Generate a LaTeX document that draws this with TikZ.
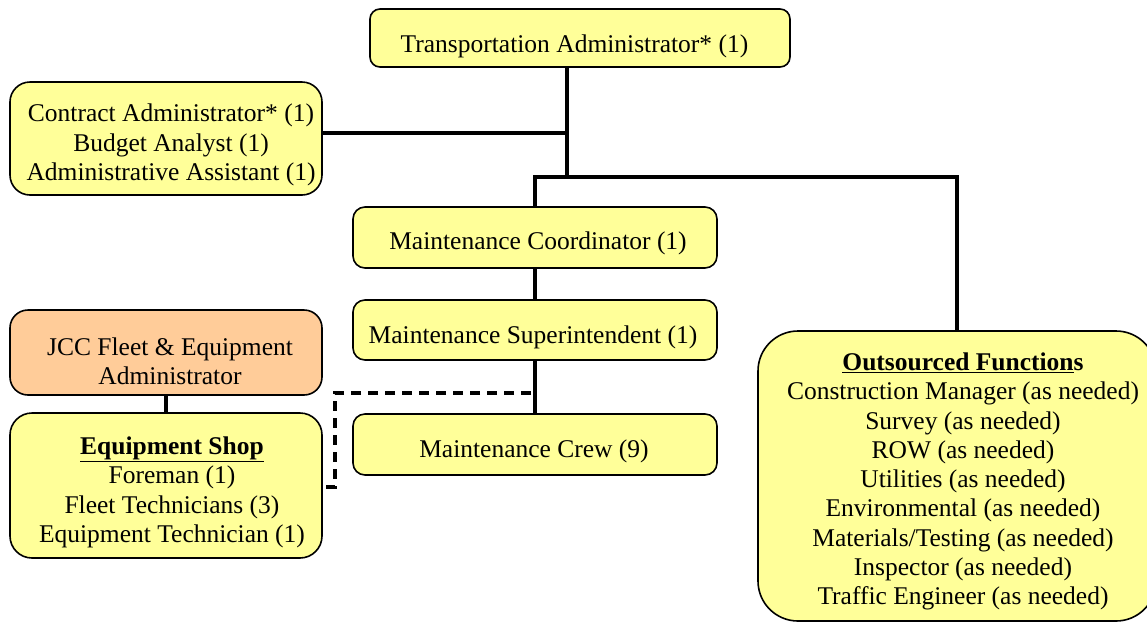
\documentclass[tikz,border=0pt]{standalone}
\usepackage{fontspec}
\setmainfont{Liberation Serif}
\definecolor{boxyellow}{HTML}{FFFF99}
\definecolor{boxorange}{HTML}{FFCC99}
\begin{document}
\begin{tikzpicture}[x=1pt,y=-1pt,
  box/.style={draw=black, line width=1.6pt, fill=boxyellow, inner sep=0pt, rectangle},
  txt/.style={font=\fontsize{25.5}{29.3}\selectfont, align=center, inner sep=0pt},
  link/.style={line width=4pt},
  dotlink/.style={line width=4pt, dash pattern=on 10pt off 7pt}]
\useasboundingbox (0,0) rectangle (1147,622);
% boxes
\node[box, rounded corners=10pt, minimum width=420pt, minimum height=58pt] (top) at (580,38) {};
\node[box, rounded corners=20pt, minimum width=312pt, minimum height=113pt] (contract) at (166,138.5) {};
\node[box, rounded corners=12pt, minimum width=364pt, minimum height=61pt] (coord) at (535,237.5) {};
\node[box, rounded corners=12pt, minimum width=364pt, minimum height=60pt] (super) at (535,330) {};
\node[box, rounded corners=12pt, minimum width=364pt, minimum height=61pt] (crew) at (535,444.5) {};
\node[box, fill=boxorange, rounded corners=18pt, minimum width=312pt, minimum height=85pt] (jcc) at (166,352.5) {};
\node[box, rounded corners=22pt, minimum width=312pt, minimum height=145pt] (shop) at (166,485.5) {};
\node[box, rounded corners=40pt, minimum width=398pt, minimum height=290pt] (out) at (957,476) {};
% texts
\node[txt, anchor=base] (ttop) at (574.5,52) {Transportation Administrator* (1)};
\node[txt] (tcontract) at (171,145) {Contract Administrator* (1)\\Budget Analyst (1)\\Administrative Assistant (1)};
\node[txt, anchor=base] (tcoord) at (538,249) {Maintenance Coordinator (1)};
\node[txt, anchor=base] (tsuper) at (533,343) {Maintenance Superintendent (1)};
\node[txt, anchor=base] (tcrew) at (534,457) {Maintenance Crew (9)};
\node[txt] (tjcc) at (170,361) {JCC Fleet \& Equipment\\Administrator};
\node[txt] (tshop) at (172,492.5) {\underline{\textbf{Equipment Shop}}\\Foreman (1)\\Fleet Technicians (3)\\Equipment Technician (1)};
\node[txt] (tout) at (963,481.5) {\underline{\textbf{Outsourced Function}}\textbf{s}\\Construction Manager (as needed)\\Survey (as needed)\\ROW (as needed)\\Utilities (as needed)\\Environmental (as needed)\\Materials/Testing (as needed)\\Inspector (as needed)\\Traffic Engineer (as needed)};
% junction coordinates
\coordinate (j1) at (567,133);
\coordinate (j2) at (567,179);
\coordinate (h) at (535,177);
\coordinate (d1) at (531,393);
\coordinate (d2) at (335,393);
\coordinate (d3) at (335,487);
% connectors
\draw[link] (top.south -| j1) -- (j2);
\draw[link] (contract.east |- j1) -- (j1);
\draw[link] (coord.north) -- (h) -- (h -| out.north) -- (out.north);
\draw[link] (coord.south) -- (super.north);
\draw[link] (super.south) -- (crew.north);
\draw[link] (jcc.south) -- (shop.north);
\draw[dotlink] (d1) -- (d2) -- (d3) -- (d3 -| shop.east);
\end{tikzpicture}
\end{document}
